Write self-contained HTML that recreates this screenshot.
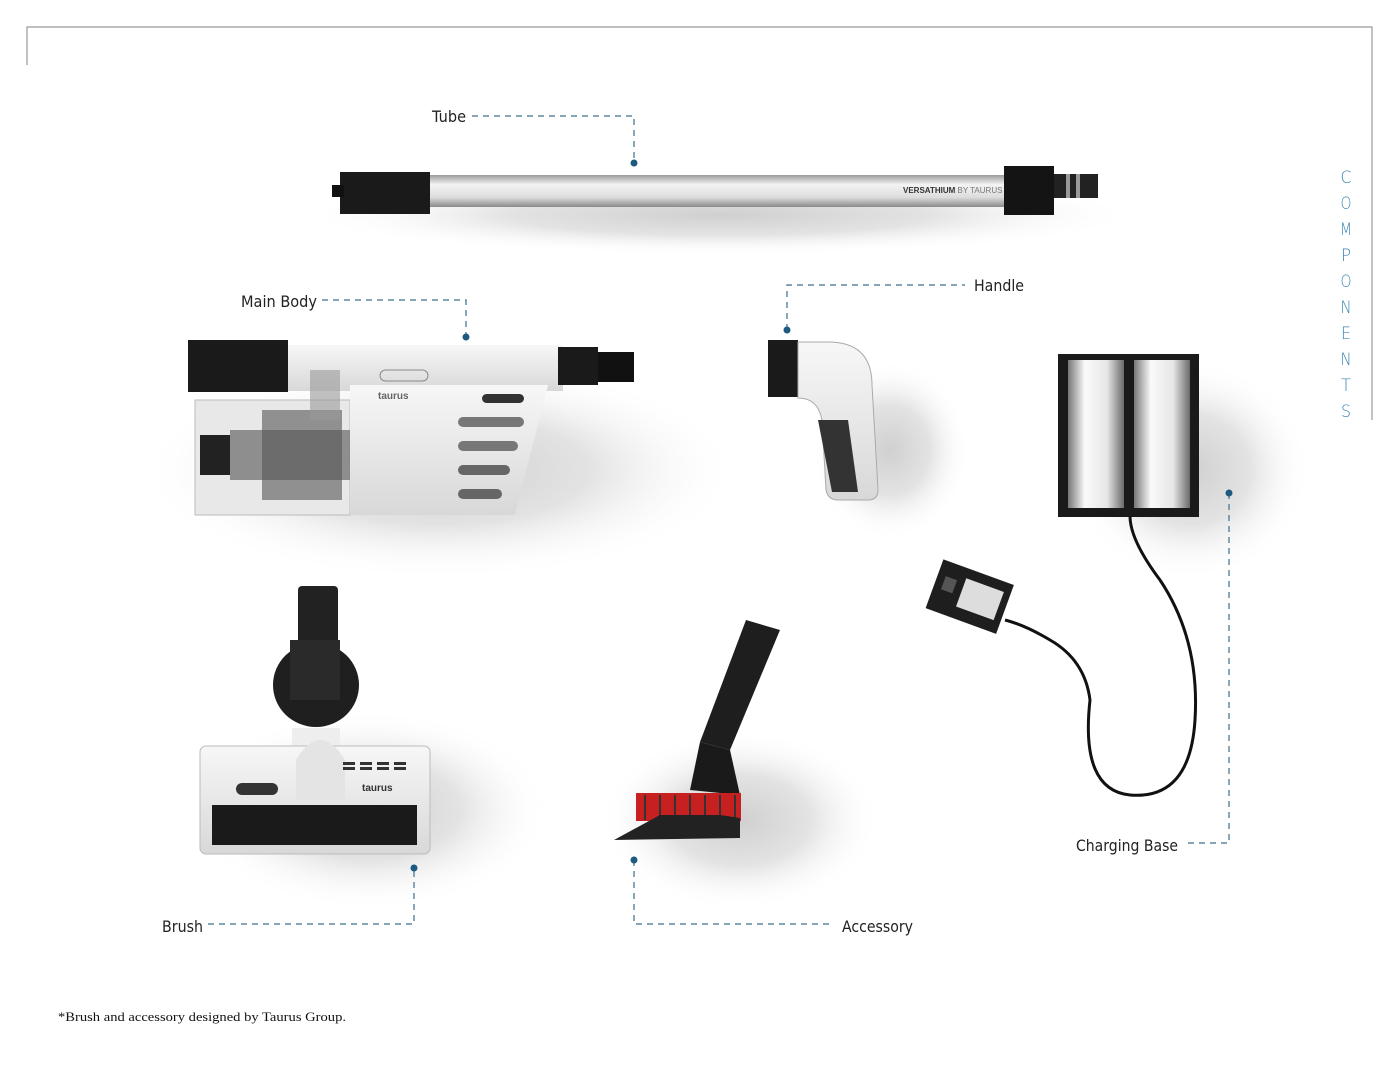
<!DOCTYPE html>
<html><head><meta charset="utf-8"><style>
html,body{margin:0;padding:0;background:#fff;}
svg{display:block;}
.l{font-family:"DejaVu Sans","Liberation Sans",sans-serif;font-size:16px;fill:#222;}
.d{stroke:#3d6f8f;stroke-width:1.2;stroke-dasharray:6 5;fill:none;}
.dot{fill:#1d5a80;}
</style></head><body>
<svg width="1400" height="1079" viewBox="0 0 1400 1079" xmlns="http://www.w3.org/2000/svg">
<defs>
<radialGradient id="sh"><stop offset="0" stop-color="#c4c4c4"/><stop offset=".5" stop-color="#dcdcdc"/><stop offset="1" stop-color="#fff" stop-opacity="0"/></radialGradient>
<linearGradient id="sil" x1="0" y1="0" x2="0" y2="1"><stop offset="0" stop-color="#9a9a9a"/><stop offset=".3" stop-color="#f4f4f4"/><stop offset=".7" stop-color="#dcdcdc"/><stop offset="1" stop-color="#8a8a8a"/></linearGradient>
<linearGradient id="cyl" x1="0" y1="0" x2="1" y2="0"><stop offset="0" stop-color="#777"/><stop offset=".3" stop-color="#fafafa"/><stop offset=".7" stop-color="#e6e6e6"/><stop offset="1" stop-color="#6a6a6a"/></linearGradient>
<linearGradient id="wh" x1="0" y1="0" x2="0" y2="1"><stop offset="0" stop-color="#f7f7f7"/><stop offset="1" stop-color="#d8d8d8"/></linearGradient>
</defs>
<!-- shadows -->
<g fill="url(#sh)" opacity=".8">
<ellipse cx="440" cy="470" rx="300" ry="110"/>
<ellipse cx="370" cy="810" rx="180" ry="100"/>
<ellipse cx="740" cy="820" rx="140" ry="90"/>
<ellipse cx="890" cy="450" rx="80" ry="90"/>
<ellipse cx="1190" cy="470" rx="120" ry="110"/>
<ellipse cx="720" cy="215" rx="420" ry="40"/>
</g>
<!-- frame -->
<path d="M27 65 V27 H1372 V420" fill="none" stroke="#9a9a9a" stroke-width="1.2"/>
<g font-family="DejaVu Sans,sans-serif" font-size="17" fill="#3a85b0" text-anchor="middle" font-weight="300">
<text x="1346" y="183" textLength="11" lengthAdjust="spacingAndGlyphs">C</text><text x="1346" y="209" textLength="11" lengthAdjust="spacingAndGlyphs">O</text><text x="1346" y="235" textLength="12" lengthAdjust="spacingAndGlyphs">M</text><text x="1346" y="261" textLength="10" lengthAdjust="spacingAndGlyphs">P</text><text x="1346" y="287" textLength="11" lengthAdjust="spacingAndGlyphs">O</text><text x="1346" y="313" textLength="11" lengthAdjust="spacingAndGlyphs">N</text><text x="1346" y="339" textLength="10" lengthAdjust="spacingAndGlyphs">E</text><text x="1346" y="365" textLength="11" lengthAdjust="spacingAndGlyphs">N</text><text x="1346" y="391" textLength="10" lengthAdjust="spacingAndGlyphs">T</text><text x="1346" y="417" textLength="10" lengthAdjust="spacingAndGlyphs">S</text>
</g>
<!-- tube -->
<rect x="428" y="175" width="580" height="32" fill="url(#sil)"/>
<rect x="340" y="172" width="90" height="42" fill="#1a1a1a"/>
<rect x="332" y="185" width="12" height="12" fill="#111"/>
<rect x="1004" y="166" width="50" height="49" fill="#141414"/>
<rect x="1054" y="174" width="44" height="24" fill="#222"/>
<rect x="1066" y="174" width="4" height="24" fill="#999"/><rect x="1076" y="174" width="4" height="24" fill="#999"/>
<text x="903" y="193" font-family="Liberation Sans,sans-serif" font-size="8" font-weight="bold" fill="#333">VERSATHIUM <tspan font-weight="normal" fill="#777">BY TAURUS</tspan></text>
<!-- main body -->
<rect x="188" y="340" width="100" height="52" fill="#1a1a1a"/>
<rect x="288" y="345" width="275" height="46" fill="url(#wh)"/>
<rect x="558" y="347" width="40" height="38" fill="#1a1a1a"/>
<rect x="598" y="352" width="36" height="30" fill="#111"/>
<path d="M195 400 H350 V515 H195 Z" fill="#e8e8e8" stroke="#bbb"/>
<path d="M350 385 H548 L515 515 H350 Z" fill="url(#wh)"/>
<rect x="200" y="435" width="30" height="40" fill="#222"/>
<rect x="230" y="430" width="120" height="50" fill="#777" opacity=".8"/>
<rect x="262" y="410" width="80" height="90" fill="#555" opacity=".6"/>
<rect x="310" y="370" width="30" height="50" fill="#999" opacity=".6"/>
<rect x="482" y="394" width="42" height="9" rx="4.5" fill="#333"/>
<rect x="458" y="417" width="66" height="10" rx="5" fill="#777"/>
<rect x="458" y="441" width="60" height="10" rx="5" fill="#777"/>
<rect x="458" y="465" width="52" height="10" rx="5" fill="#666"/>
<rect x="458" y="489" width="44" height="10" rx="5" fill="#666"/>
<rect x="380" y="370" width="48" height="11" rx="5.5" fill="none" stroke="#888"/>
<text x="378" y="399" font-family="Liberation Sans,sans-serif" font-size="10" font-weight="bold" fill="#666">taurus</text>
<!-- handle -->
<rect x="768" y="340" width="30" height="57" fill="#1a1a1a"/>
<path d="M798 342 H828 Q872 342 872 385 L878 490 Q878 500 868 500 H838 Q828 500 826 490 L822 420 Q818 398 798 398 Z" fill="url(#wh)" stroke="#aaa"/>
<path d="M818 420 H848 L858 492 H832 Z" fill="#333"/>
<!-- charging base -->
<rect x="1058" y="354" width="141" height="163" fill="#1a1a1a"/>
<rect x="1068" y="360" width="56" height="148" fill="url(#cyl)"/>
<rect x="1134" y="360" width="56" height="148" fill="url(#cyl)"/>
<path d="M1130 516 Q1130 540 1160 580 Q1200 640 1195 720 Q1190 800 1130 795 Q1080 790 1090 700 Q1085 660 1050 640 Q1025 625 1005 620" fill="none" stroke="#111" stroke-width="3"/>
<g transform="rotate(20 968 597)"><rect x="932" y="570" width="75" height="52" fill="#1e1e1e"/><rect x="960" y="580" width="40" height="30" fill="#ddd"/><rect x="940" y="585" width="12" height="14" fill="#555"/></g>
<!-- brush -->
<rect x="298" y="586" width="40" height="60" rx="4" fill="#222"/>
<ellipse cx="316" cy="685" rx="43" ry="42" fill="#1f1f1f"/>
<rect x="290" y="640" width="50" height="60" fill="#2a2a2a"/>
<rect x="292" y="728" width="48" height="30" fill="#eee"/>
<rect x="200" y="746" width="230" height="108" rx="6" fill="url(#wh)" stroke="#bbb"/>
<rect x="212" y="805" width="205" height="40" fill="#1a1a1a"/>
<path d="M296 760 Q320 720 345 760 V800 H296 Z" fill="#e4e4e4"/>
<rect x="236" y="783" width="42" height="12" rx="6" fill="#333"/>
<text x="362" y="791" font-family="Liberation Sans,sans-serif" font-size="10" font-weight="bold" fill="#333">taurus</text>
<g fill="#333"><rect x="343" y="762" width="12" height="3"/><rect x="360" y="762" width="12" height="3"/><rect x="377" y="762" width="12" height="3"/><rect x="394" y="762" width="12" height="3"/><rect x="343" y="767" width="12" height="3"/><rect x="360" y="767" width="12" height="3"/><rect x="377" y="767" width="12" height="3"/><rect x="394" y="767" width="12" height="3"/></g>
<!-- accessory -->
<path d="M746 620 L780 630 L730 750 L700 742 Z" fill="#1e1e1e"/>
<path d="M700 742 L730 750 L740 795 L690 790 Z" fill="#1a1a1a"/>
<rect x="636" y="793" width="105" height="28" fill="#c62020"/>
<g stroke="#333" stroke-width="2"><line x1="645" y1="795" x2="645" y2="820"/><line x1="660" y1="795" x2="660" y2="820"/><line x1="675" y1="795" x2="675" y2="820"/><line x1="690" y1="795" x2="690" y2="820"/><line x1="705" y1="795" x2="705" y2="820"/><line x1="720" y1="795" x2="720" y2="820"/><line x1="735" y1="795" x2="735" y2="820"/></g>
<path d="M614 840 L660 815 H720 L740 818 L740 838 Z" fill="#222"/>
<!-- leaders -->
<path class="d" d="M472 116 H634 V163"/><circle class="dot" cx="634" cy="163" r="3.5"/>
<text class="l" x="432" y="122" textLength="34" lengthAdjust="spacingAndGlyphs">Tube</text>
<path class="d" d="M322 300 H466 V336"/><circle class="dot" cx="466" cy="337" r="3.5"/>
<text class="l" x="241" y="307" textLength="76" lengthAdjust="spacingAndGlyphs">Main Body</text>
<path class="d" d="M787 330 V285 H965"/><circle class="dot" cx="787" cy="330" r="3.5"/>
<text class="l" x="974" y="291" textLength="50" lengthAdjust="spacingAndGlyphs">Handle</text>
<path class="d" d="M1229 493 V843 H1184"/><circle class="dot" cx="1229" cy="493" r="3.5"/>
<text class="l" x="1076" y="851" textLength="102" lengthAdjust="spacingAndGlyphs">Charging Base</text>
<path class="d" d="M208 924 H414 V868"/><circle class="dot" cx="414" cy="868" r="3.5"/>
<text class="l" x="162" y="932" textLength="41" lengthAdjust="spacingAndGlyphs">Brush</text>
<path class="d" d="M634 860 V924 H832"/><circle class="dot" cx="634" cy="860" r="3.5"/>
<text class="l" x="842" y="932" textLength="71" lengthAdjust="spacingAndGlyphs">Accessory</text>
<text x="58" y="1021" font-family="Liberation Serif,serif" font-size="13" fill="#111" textLength="288" lengthAdjust="spacingAndGlyphs">*Brush and accessory designed by Taurus Group.</text>
</svg>
</body></html>
